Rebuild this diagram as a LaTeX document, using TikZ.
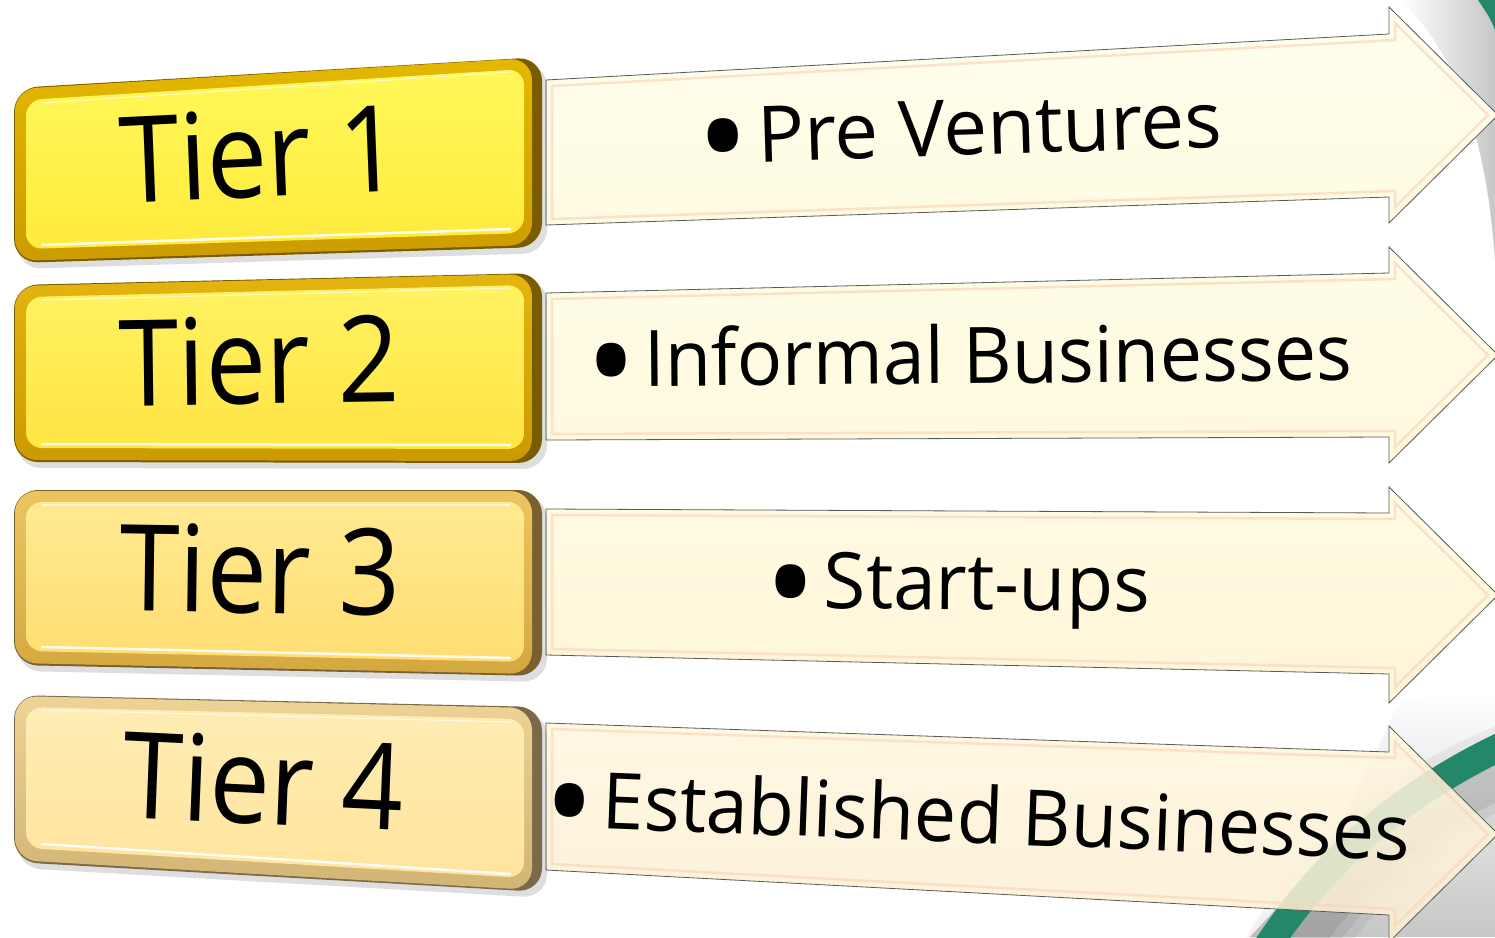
\documentclass[tikz,border=0pt]{standalone}
\usepackage{fontspec}
\setmainfont{Open Sans}
\usetikzlibrary{calc}
\definecolor{bandgreen}{HTML}{23876A}
\definecolor{arrowline}{HTML}{5A5A5A}
\definecolor{peach}{HTML}{F8D8BC}
\definecolor{rimdark}{HTML}{7A5C00}
\definecolor{rimtop}{HTML}{E4B800}
\definecolor{rimbot}{HTML}{CC9C00}
\definecolor{f1t}{HTML}{FFF85A}\definecolor{f1b}{HTML}{FFEA3C}
\definecolor{f2t}{HTML}{FFF262}\definecolor{f2b}{HTML}{FFE444}
\definecolor{f3t}{HTML}{FFE991}\definecolor{f3b}{HTML}{FFDE72}
\definecolor{f4t}{HTML}{FFEDB5}\definecolor{f4b}{HTML}{FFE49C}
\definecolor{a1t}{HTML}{FFFEEE}\definecolor{a1b}{HTML}{FFFBE2}
\definecolor{a2t}{HTML}{FFFDE8}\definecolor{a2b}{HTML}{FFF9DD}
\definecolor{a3t}{HTML}{FFFBE2}\definecolor{a3b}{HTML}{FFF5D8}
\definecolor{a4t}{HTML}{FFF7DE}\definecolor{a4b}{HTML}{FCEFD3}
\tikzset{
  tiertext/.style={anchor=base, inner sep=0pt, font=\fontsize{120}{120}\selectfont, xscale=0.9},
  arrowtext/.style={anchor=base west, inner sep=0pt, font=\fontsize{78}{78}\selectfont, xscale=0.965},
  arrowbody/.style={draw=arrowline, line width=0.8pt, line join=miter},
  arrowinner/.style={draw=peach, line width=2.5pt, opacity=0.7, line join=miter},
  shadowfill/.style={fill=black, opacity=0.13},
}
\newcommand{\bul}{\raisebox{-24pt}{\fontsize{140}{140}\selectfont •}\hspace{8pt}}
\newcommand{\arrowpath}[1]{(#1-lt) -- (#1-rt) -- (#1-ht) -- (#1-tip) -- (#1-hb) -- (#1-rb) -- (#1-lb) -- cycle}
\newcommand{\arrowinset}[1]{($(#1-lt)+(6,6)$) -- ($(#1-rt)+(6,6)$) -- ($(#1-ht)+(6,16)$) -- ($(#1-tip)+(-10,0)$) -- ($(#1-hb)+(6,-16)$) -- ($(#1-rb)+(6,-6)$) -- ($(#1-lb)+(6,-6)$) -- cycle}
\newcommand{\setarrow}[8]{%
  \coordinate (#1-lt) at #2; \coordinate (#1-rt) at #3; \coordinate (#1-ht) at #4;
  \coordinate (#1-tip) at #5; \coordinate (#1-hb) at #6; \coordinate (#1-rb) at #7;
  \coordinate (#1-lb) at #8;}
\newcommand{\tierbox}[7]{%
  \coordinate (#1-tl) at #2; \coordinate (#1-tr) at #3;
  \coordinate (#1-br) at #4; \coordinate (#1-bl) at #5;
  \fill[shadowfill, rounded corners=24pt] ($(#1-tl)+(3,5)$) -- ($(#1-tr)+(5,5)$) -- ($(#1-br)+(5,6)$) -- ($(#1-bl)+(3,6)$) -- cycle;
  \fill[rimdark, rounded corners=24pt] (#1-tl) -- (#1-tr) -- (#1-br) -- (#1-bl) -- cycle;
  \shade[top color=rimtop, bottom color=rimbot, rounded corners=22pt] ($(#1-tl)+(1,1)$) -- ($(#1-tr)+(-10,1)$) -- ($(#1-br)+(-10,-2)$) -- ($(#1-bl)+(1,-2)$) -- cycle;
  \shade[top color=#6, bottom color=#7, rounded corners=16pt] ($(#1-tl)+(12,12)$) -- ($(#1-tr)+(-18,12)$) -- ($(#1-br)+(-18,-14)$) -- ($(#1-bl)+(12,-14)$) -- cycle;
  \draw[white, line width=2.5pt, opacity=0.9, line cap=round] ($(#1-bl)+(28,-18)$) -- ($(#1-br)+(-32,-18)$);
  \draw[white, line width=1.2pt, opacity=0.6, line cap=round] ($(#1-tl)+(28,15)$) -- ($(#1-tr)+(-32,15)$);
}
\begin{document}
\begin{tikzpicture}[x=1pt,y=-1pt]
\useasboundingbox (0,0) rectangle (1495,937);
\fill[white] (0,0) rectangle (1495,937);
% background decoration, top right
\shade[left color=white, right color=black!22] (1400,0) -- (1495,0) -- (1495,260) .. controls (1488,160) and (1465,60) .. (1400,0) -- cycle;
\fill[bandgreen] (1478,0) -- (1495,0) -- (1495,30) .. controls (1490,18) .. (1478,0) -- cycle;
% background decoration, bottom right
\shade[top color=white, bottom color=black!22] (1400,700) -- (1495,690) -- (1495,937) -- (1250,937) .. controls (1330,850) .. (1400,700) -- cycle;
\foreach \w/\o in {90/0.05,70/0.06,50/0.08}{
  \draw[black, line width=\w pt, opacity=\o] (1285,960) .. controls (1345,860) and (1430,800) .. (1520,765);
}
\draw[bandgreen, line width=28pt] (1262,955) .. controls (1325,855) and (1415,785) .. (1515,740);
% arrows
\setarrow{a1}{(546,80)}{(1389,34)}{(1389,7)}{(1498,115)}{(1389,223)}{(1389,197)}{(546,225)}
\setarrow{a2}{(546,293)}{(1389,273)}{(1389,247)}{(1498,355)}{(1389,463)}{(1389,437)}{(546,440)}
\setarrow{a3}{(546,509)}{(1389,513)}{(1389,487)}{(1498,595)}{(1389,703)}{(1389,674)}{(546,655)}
\setarrow{a4}{(546,723)}{(1389,752)}{(1389,726)}{(1498,834)}{(1389,942)}{(1389,915)}{(546,870)}
\foreach \a in {a1,a2,a3}{
  \fill[shadowfill, shift={(2,3)}] \arrowpath{\a};
}
\shade[arrowbody, top color=a1t, bottom color=a1b] \arrowpath{a1};
\draw[arrowinner] \arrowinset{a1};
\shade[arrowbody, top color=a2t, bottom color=a2b] \arrowpath{a2};
\draw[arrowinner] \arrowinset{a2};
\shade[arrowbody, top color=a3t, bottom color=a3b] \arrowpath{a3};
\draw[arrowinner] \arrowinset{a3};
\shade[arrowbody, top color=a4t, bottom color=a4b, fill opacity=0.86] \arrowpath{a4};
\draw[arrowinner] \arrowinset{a4};
% tier boxes
\tierbox{b1}{(14,88)}{(542,57)}{(542,247)}{(14,263)}{f1t}{f1b}
\definecolor{rimtop}{HTML}{E4B410}\definecolor{rimbot}{HTML}{CC9A00}
\tierbox{b2}{(14,285)}{(542,273)}{(542,463)}{(14,462)}{f2t}{f2b}
\definecolor{rimtop}{HTML}{EBC560}\definecolor{rimbot}{HTML}{D4A840}\definecolor{rimdark}{HTML}{7A6030}
\tierbox{b3}{(14,490)}{(542,490)}{(542,676)}{(14,665)}{f3t}{f3b}
\definecolor{rimtop}{HTML}{EDD395}\definecolor{rimbot}{HTML}{D2B474}\definecolor{rimdark}{HTML}{7A6A48}
\tierbox{b4}{(14,695)}{(542,707)}{(542,892)}{(14,862)}{f4t}{f4b}
% texts
\node[tiertext, rotate=2.5] (t1) at (262,197) {Tier 1};
\node[tiertext, rotate=0.8] (t2) at (260,404) {Tier 2};
\node[tiertext, rotate=-0.8] (t3) at (260,613) {Tier 3};
\node[tiertext, rotate=-2.5] (t4) at (262,824) {Tier 4};
\node[arrowtext, rotate=1.8, xscale=1.036] (l1) at (698,164) {\bul Pre Ventures};
\node[arrowtext, rotate=0.5] (l2) at (586,387) {\bul Informal Businesses};
\node[arrowtext, rotate=-0.5, xscale=1.02] (l3) at (764,608) {\bul Start-ups};
\node[arrowtext, rotate=-2.2] (l4) at (543,826) {\bul Established Businesses};
\end{tikzpicture}
\end{document}
